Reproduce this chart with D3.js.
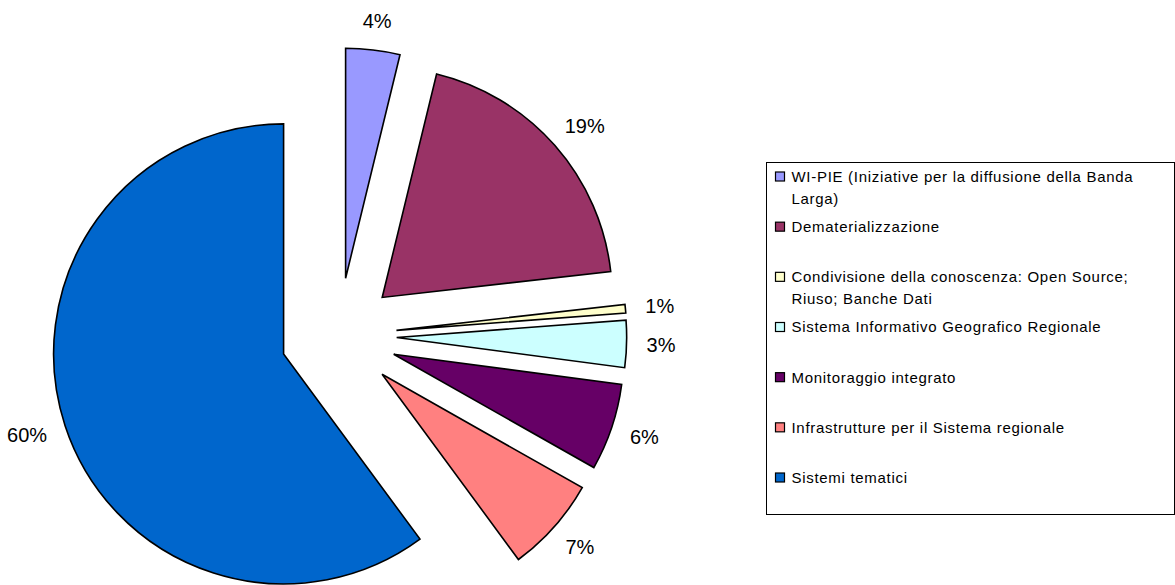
<!DOCTYPE html>
<html>
  <head>
    <meta charset="utf-8" />
    <script src="https://d3js.org/d3.v7.min.js"></script>
    <style>
      body {
        margin: 0;
        background: #fff;
      }
      text {
        font-family: "Liberation Sans", Arial, sans-serif;
        fill: #000;
      }
      .slice {
        stroke: #000;
        stroke-width: 1.6px;
        stroke-linejoin: miter;
      }
    </style>
  </head>
  <body>
    <svg id="chart" width="1175" height="585"></svg>
    <script>
      // categories (legend order = slice order, clockwise from 12 o'clock)
      const categories = [
        "WI-PIE (Iniziative per la diffusione della Banda\nLarga)",
        "Dematerializzazione",
        "Condivisione della conoscenza: Open Source;\nRiuso; Banche Dati",
        "Sistema Informativo Geografico Regionale",
        "Monitoraggio integrato",
        "Infrastrutture per il Sistema regionale",
        "Sistemi tematici",
      ];
      // share of total, in percent
      const shares = [3.8, 19.4, 0.6, 3.3, 6.1, 6.7, 60.1];
      const pctLabels = ["4%", "19%", "1%", "3%", "6%", "7%", "60%"];
      const colors = [
        "#9999FF",
        "#993366",
        "#FFFFCC",
        "#CCFFFF",
        "#660066",
        "#FF8080",
        "#0066CC",
      ];

      const svg = d3.select("svg#chart");
      const cx = 338.7,
        cy = 335.8,
        radius = 230,
        explode = 58,
        labelGap = 20;

      const pie = d3
        .pie()
        .sort(null)
        .value((d) => d.v);
      const arc = d3.arc().innerRadius(0).outerRadius(radius);

      const rows = shares.map((v, i) => ({
        v: v,
        name: categories[i],
        label: pctLabels[i],
        color: colors[i],
      }));
      const arcs = pie(rows);

      const mid = (d) => (d.startAngle + d.endAngle) / 2;

      const pieG = svg
        .append("g")
        .attr("transform", `translate(${cx},${cy})`);

      pieG
        .selectAll("path.slice")
        .data(arcs)
        .join("path")
        .attr("class", "slice")
        .attr("fill", (d) => d.data.color)
        .attr("transform", (d) => {
          const a = mid(d);
          return `translate(${Math.sin(a) * explode},${-Math.cos(a) * explode})`;
        })
        .attr("d", arc);

      // percentage labels, just outside each exploded slice
      pieG
        .selectAll("text.pct")
        .data(arcs)
        .join("text")
        .attr("class", "pct")
        .attr("font-size", "20px")
        .attr("text-anchor", "middle")
        .attr("dominant-baseline", "central")
        .text((d) => d.data.label)
        .each(function (d) {
          const a = mid(d);
          const dx = Math.sin(a),
            dy = -Math.cos(a);
          const w = this.getComputedTextLength();
          const h = 19;
          const rr = explode + radius + labelGap;
          d3.select(this)
            .attr("x", dx * rr + (dx * w) / 2)
            .attr("y", dy * rr + (dy * h) / 2);
        });

      // legend
      const legend = { x: 766, y: 162, w: 408, h: 352 };
      svg
        .append("rect")
        .attr("x", legend.x + 0.5)
        .attr("y", legend.y + 0.5)
        .attr("width", legend.w)
        .attr("height", legend.h)
        .attr("fill", "#fff")
        .attr("stroke", "#000")
        .attr("stroke-width", 1);

      const rowY = d3
        .scaleLinear()
        .domain([0, categories.length - 1])
        .range([176.5, 477.5]);

      const items = svg
        .selectAll("g.item")
        .data(rows)
        .join("g")
        .attr("class", "item")
        .attr("transform", (d, i) => `translate(${legend.x},${rowY(i)})`);

      items
        .append("rect")
        .attr("x", 9.5)
        .attr("y", -4.5)
        .attr("width", 9)
        .attr("height", 9)
        .attr("fill", (d) => d.color)
        .attr("stroke", "#000")
        .attr("stroke-width", 1.2);

      items
        .append("text")
        .attr("x", 25.5)
        .attr("font-size", "15px")
        .attr("letter-spacing", "0.7px")
        .selectAll("tspan")
        .data((d) => d.name.split("\n"))
        .join("tspan")
        .attr("x", 25.5)
        .attr("y", (d, i) => i * 22)
        .attr("dy", "0.36em")
        .text((d) => d);
    </script>
  </body>
</html>
